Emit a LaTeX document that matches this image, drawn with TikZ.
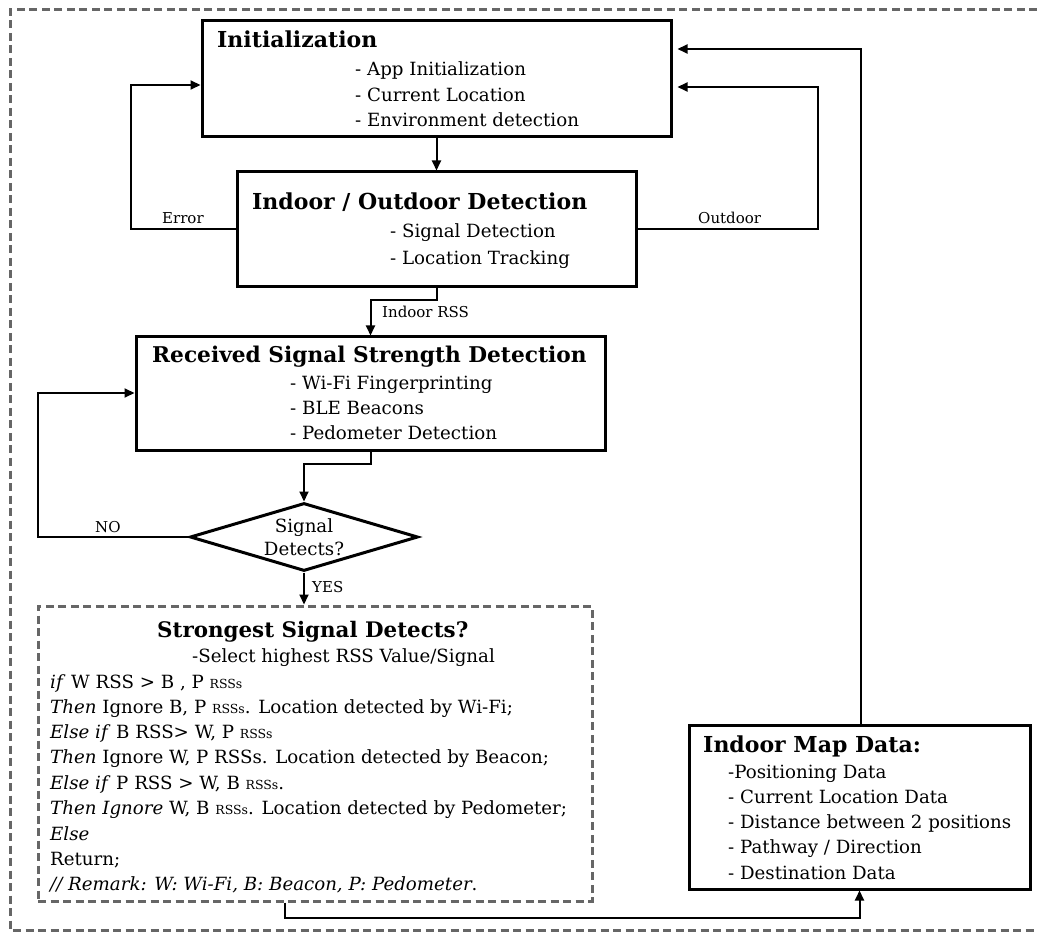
\documentclass[tikz,border=0pt]{standalone}
\usepackage{fontspec}
\setmainfont{DejaVu Serif}
\usetikzlibrary{arrows.meta,shapes.geometric}
\newcommand\smrss[1]{{\fontsize{12.5}{13}\selectfont #1}}
\begin{document}
\begin{tikzpicture}[x=1pt,y=-1pt,
  box/.style={draw, line width=3pt, inner sep=0pt},
  dbox/.style={draw=black!60, line width=3pt, dash pattern=on 8pt off 4.5pt, inner sep=0pt},
  arr/.style={line width=2pt, -{Triangle[length=10pt,width=9pt]}},
  txt/.style={anchor=base west, inner sep=0pt, font=\fontsize{18.2}{21}\selectfont},
  ttl/.style={anchor=base west, inner sep=0pt, font=\fontsize{22}{26}\selectfont\bfseries},
  lbl/.style={anchor=base west, inner sep=0pt, font=\fontsize{15}{18}\selectfont}
]
\useasboundingbox (0,0) rectangle (1037,933);
% outer frame
\draw[black!60, line width=3pt, dash pattern=on 8pt off 4.5pt] (1037,10) -- (10,10) -- (10,930) -- (1037,930);

% boxes
\node[box, minimum width=469pt, minimum height=116pt] (init) at (436.5,79) {};
\node[box, minimum width=399pt, minimum height=115pt] (indoor) at (436.5,229.5) {};
\node[box, minimum width=469pt, minimum height=114pt] (rss) at (370.5,394) {};
\node[draw, diamond, line width=3pt, inner sep=0pt, minimum width=228pt, minimum height=68pt] (dia) at (304,537) {};
\node[dbox, minimum width=554pt, minimum height=295pt] (str) at (315,753.5) {};
\node[box, minimum width=341pt, minimum height=164pt] (map) at (859.5,807) {};

% texts: Initialization
\node[ttl] (t1) at (217,48) {Initialization};
\node[txt] (t1a) at (355,76) {- App Initialization};
\node[txt] (t1b) at (355,102) {- Current Location};
\node[txt] (t1c) at (355,127) {- Environment\ detection};
% Indoor
\node[ttl] (t2) at (252,210) {Indoor / Outdoor Detection};
\node[txt] (t2a) at (390,238) {- Signal Detection};
\node[txt] (t2b) at (390,265) {- Location Tracking};
% RSS
\node[ttl, font=\fontsize{21.7}{26}\selectfont\bfseries] (t3) at (152,363) {Received Signal Strength Detection};
\node[txt] (t3a) at (290,390) {- Wi-Fi Fingerprinting};
\node[txt] (t3b) at (290,415) {- BLE Beacons};
\node[txt] (t3c) at (290,439) {- Pedometer\ Detection};
% diamond
\node[txt, anchor=base] (t4a) at (304,532) {Signal};
\node[txt, anchor=base] (t4b) at (304,555) {Detects?};
% Strongest
\node[ttl, font=\fontsize{21.4}{26}\selectfont\bfseries] (t5) at (157,637) {Strongest Signal Detects?};
\node[txt] (t5a) at (192,662) {-Select highest RSS Value/Signal};
\node[txt] (t5b) at (50,688) {\textit{if} W RSS > B , P \smrss{RSSs}};
\node[txt] (t5c) at (50,713) {\textit{Then} Ignore B, P \smrss{RSSs}. Location detected by Wi-Fi;};
\node[txt] (t5d) at (50,738) {\textit{Else if} B RSS> W, P \smrss{RSSs}};
\node[txt] (t5e) at (50,763) {\textit{Then} Ignore W, P RSSs. Location detected by Beacon;};
\node[txt] (t5f) at (50,789) {\textit{Else if} P RSS > W, B \smrss{RSSs}.};
\node[txt] (t5g) at (50,814) {\textit{Then Ignore} W, B \smrss{RSSs}. Location detected by Pedometer;};
\node[txt] (t5h) at (50,840) {\textit{Else}};
\node[txt] (t5i) at (50,865) {Return;};
\node[txt] (t5j) at (50,890) {\textit{// Remark: W: Wi-Fi, B: Beacon, P: Pedometer}.};
% Map
\node[ttl] (t6) at (703,752) {Indoor Map Data:};
\node[txt] (t6a) at (728,778) {-Positioning\ Data};
\node[txt] (t6b) at (728,803) {- Current Location Data};
\node[txt] (t6c) at (728,828) {- Distance between 2 positions};
\node[txt] (t6d) at (728,853) {- Pathway / Direction};
\node[txt] (t6e) at (728,879) {- Destination\ Data};

% labels
\node[lbl] (lerr) at (162,224) {Error};
\node[lbl] (lout) at (698,224) {Outdoor};
\node[lbl] (lirss) at (382,318) {Indoor RSS};
\node[lbl] (lno) at (95,532) {NO};
\node[lbl] (lyes) at (312,592) {YES};

% coordinates
\coordinate (errT) at (131,85);
\coordinate (outT) at (818,87);
\coordinate (mapT) at (861,49);
\coordinate (ir) at (370.5,300);
\coordinate (rd) at (304,464);
\coordinate (noL) at (38,393);
\coordinate (smc) at (285,918);

% connectors
\draw[arr] (init.south) -- (indoor.north);
\draw[arr] (indoor.west) -| (errT) -- (errT -| init.west);
\draw[arr, shorten >=5pt] (indoor.east) -| (outT) -- (outT -| init.east);
\draw[arr, shorten >=5pt] (mapT |- map.north) -- (mapT) -- (mapT -| init.east);
\draw[arr] (indoor.south) |- (ir) -- (ir |- rss.north);
\draw[arr] (rss.south) |- (rd) -- (dia.north);
\draw[arr] (dia.west) -| (noL) -- (noL -| rss.west);
\draw[arr] (dia.south) -- (dia.south |- str.north);
\draw[arr] (smc |- str.south) -- (smc) -| (map.south);
\end{tikzpicture}
\end{document}
